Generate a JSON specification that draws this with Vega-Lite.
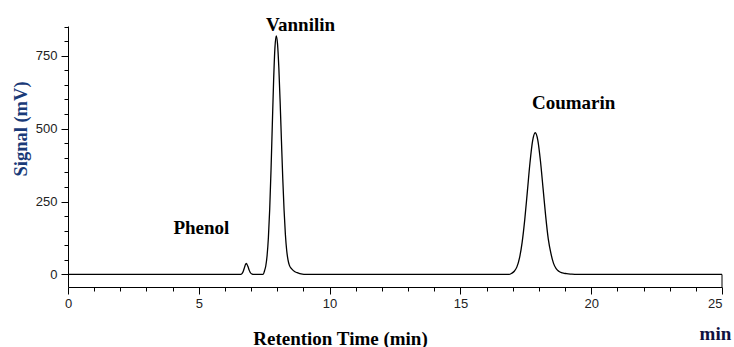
{
  "$schema": "https://vega.github.io/schema/vega-lite/v6.json",
  "width": 654,
  "height": 261,
  "autosize": {"type": "none"},
  "padding": {"left": 68, "top": 26, "right": 12, "bottom": 60},
  "background": "white",
  "config": {
    "view": {"stroke": null},
    "axis": {"grid": false, "domainColor": "#000", "tickColor": "#000", "domainWidth": 1, "tickWidth": 1, "labelFont": "Liberation Sans", "labelFontSize": 13, "labelColor": "#222"}
  },
  "resolve": {"axis": {"x": "independent", "y": "independent"}},
  "layer": [
    {
      "data": {"values": [
        {"t": 0, "signal": 0}, {"t": 6.6, "signal": 0}, {"t": 6.65, "signal": 3}, {"t": 6.7, "signal": 11}, {"t": 6.75, "signal": 25}, {"t": 6.78, "signal": 33}, {"t": 6.81, "signal": 38}, {"t": 6.84, "signal": 35}, {"t": 6.88, "signal": 27}, {"t": 6.93, "signal": 14}, {"t": 6.98, "signal": 5}, {"t": 7.04, "signal": 1}, {"t": 7.1, "signal": 0},
        {"t": 7.46, "signal": 0}, {"t": 7.51, "signal": 12}, {"t": 7.56, "signal": 29}, {"t": 7.61, "signal": 64}, {"t": 7.66, "signal": 126}, {"t": 7.71, "signal": 223}, {"t": 7.76, "signal": 356}, {"t": 7.81, "signal": 513}, {"t": 7.86, "signal": 665}, {"t": 7.91, "signal": 777}, {"t": 7.96, "signal": 818}, {"t": 8.01, "signal": 790}, {"t": 8.06, "signal": 708}, {"t": 8.11, "signal": 590}, {"t": 8.16, "signal": 457}, {"t": 8.21, "signal": 328}, {"t": 8.26, "signal": 220}, {"t": 8.31, "signal": 137}, {"t": 8.36, "signal": 82}, {"t": 8.41, "signal": 50}, {"t": 8.46, "signal": 32}, {"t": 8.56, "signal": 18}, {"t": 8.66, "signal": 10}, {"t": 8.76, "signal": 6}, {"t": 8.86, "signal": 3}, {"t": 8.96, "signal": 1}, {"t": 9.06, "signal": 0},
        {"t": 16.86, "signal": 0}, {"t": 16.96, "signal": 4}, {"t": 17.06, "signal": 11}, {"t": 17.16, "signal": 26}, {"t": 17.26, "signal": 57}, {"t": 17.36, "signal": 110}, {"t": 17.46, "signal": 188}, {"t": 17.56, "signal": 285}, {"t": 17.66, "signal": 383}, {"t": 17.76, "signal": 458}, {"t": 17.86, "signal": 486}, {"t": 17.96, "signal": 460}, {"t": 18.06, "signal": 389}, {"t": 18.16, "signal": 295}, {"t": 18.26, "signal": 200}, {"t": 18.36, "signal": 121}, {"t": 18.46, "signal": 72}, {"t": 18.56, "signal": 38}, {"t": 18.66, "signal": 20}, {"t": 18.76, "signal": 11}, {"t": 18.86, "signal": 6}, {"t": 18.96, "signal": 4}, {"t": 19.06, "signal": 3}, {"t": 19.26, "signal": 1}, {"t": 19.46, "signal": 0},
        {"t": 25, "signal": 0}
      ]},
      "mark": {"type": "line", "color": "#000", "strokeWidth": 1.3, "interpolate": "monotone"},
      "encoding": {
        "x": {
          "field": "t", "type": "quantitative",
          "scale": {"domain": [0, 25], "nice": false, "zero": false},
          "axis": {
            "orient": "bottom",
            "title": "Retention Time (min)",
            "titleFont": "Liberation Serif", "titleFontWeight": "bold", "titleFontSize": 19, "titleColor": "#000",
            "titleX": 272, "titleY": 57, "titleAlign": "center", "titleBaseline": "alphabetic",
            "values": [0, 5, 10, 15, 20, 25],
            "tickSize": 7,
            "labelFlush": false, "labelOverlap": false, "labelPadding": 3,
            "labelAlign": {"condition": {"test": "datum.value === 25", "value": "right"}, "value": "center"}
          }
        },
        "y": {
          "field": "signal", "type": "quantitative",
          "scale": {"domain": [-43, 852], "nice": false, "zero": false},
          "axis": {
            "orient": "left",
            "title": "Signal (mV)",
            "titleFont": "Liberation Serif", "titleFontWeight": "bold", "titleFontSize": 18.5, "titleColor": "#1a3a78",
            "titleX": -48, "titleY": 102.5, "titleAlign": "center", "titleBaseline": "middle",
            "values": [0, 250, 500, 750],
            "tickSize": 7,
            "labelOverlap": false, "labelPadding": 4, "labelFlush": false
          }
        }
      }
    },
    {
      "data": {"values": [
        {"t": 8.89, "signal": 836, "label": "Vannilin"},
        {"t": 5.10, "signal": 140, "label": "Phenol"},
        {"t": 19.33, "signal": 568, "label": "Coumarin"}
      ]},
      "mark": {"type": "text", "font": "Liberation Serif", "fontWeight": "bold", "fontSize": 19, "baseline": "alphabetic", "align": "center", "color": "#000"},
      "encoding": {
        "x": {"field": "t", "type": "quantitative", "axis": null},
        "y": {"field": "signal", "type": "quantitative", "axis": null},
        "text": {"field": "label"}
      }
    },
    {
      "data": {"values": [{}]},
      "mark": {"type": "rule", "color": "#000", "strokeWidth": 1},
      "encoding": {
        "x": {"datum": 25, "type": "quantitative", "axis": {"orient": "bottom", "title": null, "labels": false, "domain": false, "tickSize": 4, "values": [1,2,3,4,6,7,8,9,11,12,13,14,16,17,18,19,21,22,23,24]}},
        "y": {"datum": 0, "type": "quantitative", "axis": {"orient": "left", "title": null, "labels": false, "domain": false, "tickSize": 4, "values": [50,100,150,200,300,350,400,450,550,600,650,700,800,850]}},
        "y2": {"datum": -43}
      }
    },
    {
      "data": {"values": [{}]},
      "mark": {"type": "text", "font": "Liberation Serif", "fontWeight": "bold", "fontSize": 19, "baseline": "alphabetic", "align": "center", "color": "#10123f"},
      "encoding": {
        "x": {"datum": 24.75, "type": "quantitative", "axis": null},
        "y": {"datum": -225, "type": "quantitative", "axis": null},
        "text": {"value": "min"}
      }
    }
  ]
}
